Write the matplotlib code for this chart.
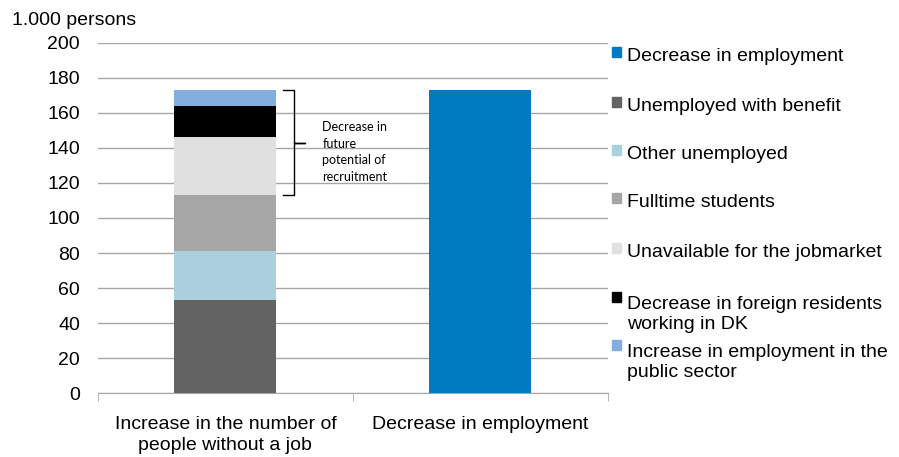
import matplotlib.pyplot as plt
from matplotlib.patches import Rectangle

plt.rcParams['font.family'] = ['Liberation Sans', 'DejaVu Sans']

# data (1.000 persons)
categories = ["Increase in the number of\npeople without a job", "Decrease in employment"]
stack_labels = ["Unemployed with benefit", "Other unemployed", "Fulltime students",
                "Unavailable for the jobmarket", "Decrease in foreign residents\nworking in DK",
                "Increase in employment in the\npublic sector"]
stack_values = [53, 28, 32, 33, 18, 9]
stack_colors = ["#636363", "#A9D0DC", "#A6A6A6", "#E0E0E0", "#000000", "#84AEE0"]
employment_label = "Decrease in employment"
employment_value = 173
employment_color = "#007AC0"

fig = plt.figure(figsize=(8.99, 4.57), dpi=100)
ax = fig.add_axes([0.109, 0.139, 0.567, 0.768])

bw = 0.4
bottom = 0
for v, c in zip(stack_values, stack_colors):
    ax.bar(0, v, bw, bottom=bottom, color=c, zorder=3)
    bottom += v
ax.bar(1, employment_value, bw, color=employment_color, zorder=3)

ax.set_xlim(-0.5, 1.5)
ax.set_ylim(0, 200)
ax.set_yticks(range(0, 201, 20))
ax.yaxis.grid(True, color="#A6A6A6", linewidth=1)
ax.set_axisbelow(True)
for s in ["left", "right", "top"]:
    ax.spines[s].set_visible(False)
ax.spines["bottom"].set_color("#A6A6A6")
ax.tick_params(axis="y", length=0, labelsize=14, pad=13)
ax.set_xticks([0, 1])
ax.set_xticklabels(categories, fontsize=14, linespacing=1.32)
ax.set_xticks([-0.5, 0.5, 1.5], minor=True)
ax.tick_params(axis="x", which="major", length=0, pad=16)
ax.tick_params(axis="x", which="minor", length=6, color="#A6A6A6")

fig.text(0.013, 0.955, "1.000 persons", fontsize=14, va="center")

# bracket for future recruitment potential
top = sum(stack_values)
low = sum(stack_values[:3])
mid = 142.5
x0, x1, xt = 0.224, 0.27, 0.314
ax.plot([x0, x1, x1, xt, x1, x1, x0], [top, top, mid, mid, mid, low, low],
        color="black", linewidth=1, zorder=4, solid_joinstyle="round")
ax.text(0.38, 155, "Decrease in\nfuture\npotential of\nrecruitment", fontsize=9,
        family="Lato", va="top", ha="left", linespacing=1.45)

# legend drawn by hand to match spacing
leg_labels = [employment_label] + stack_labels
leg_colors = [employment_color] + stack_colors
leg_base = [61, 111, 159, 207, 257, 306, 354]
for lab, col, y in zip(leg_labels, leg_colors, leg_base):
    fy = 1 - y / 457
    fig.patches.append(Rectangle((612 / 899, fy + 4 / 457), 9 / 899, 10 / 457,
                                 transform=fig.transFigure, color=col))
    # baseline alignment refers to the last line, so push multi-line labels down
    extra = 23 * lab.count("\n")
    fig.text(627 / 899, 1 - (y + extra) / 457, lab, fontsize=14, va="baseline",
             ha="left", linespacing=1.2)

fig.savefig("out.png", dpi=100)
